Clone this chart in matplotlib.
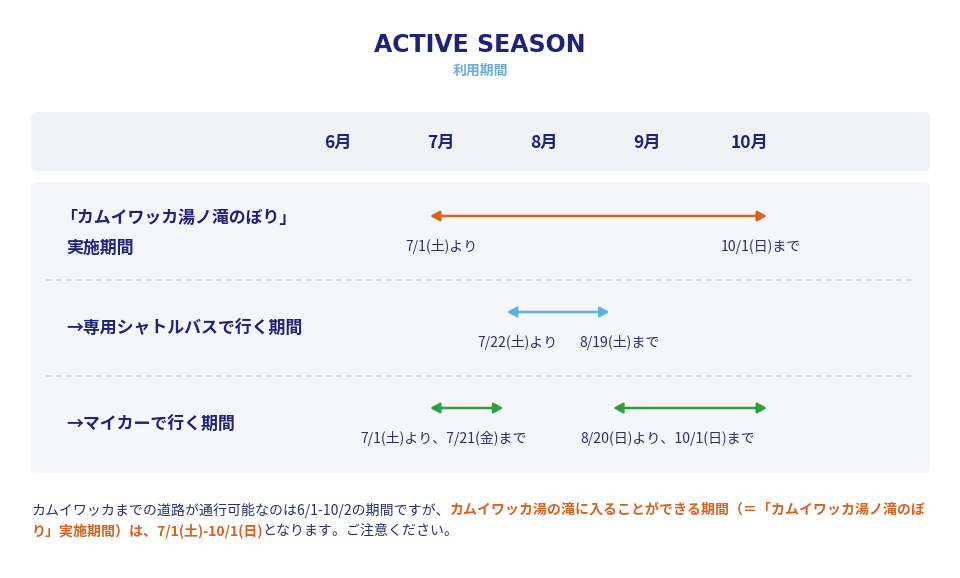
import datetime as dt
import matplotlib
matplotlib.use("Agg")
import matplotlib.pyplot as plt
import matplotlib.dates as mdates
from matplotlib.patches import FancyBboxPatch

JP = ["Noto Sans CJK JP", "DejaVu Sans"]
plt.rcParams["font.family"] = JP

NAVY = "#1f2278"
TEXT = "#2c2f6e"
ORANGE = "#d8621f"

YEAR = 2023
months = ["6月", "7月", "8月", "9月", "10月"]
row_titles = [["「カムイワッカ湯ノ滝のぼり」", "実施期間"],
              ["→専用シャトルバスで行く期間"],
              ["→マイカーで行く期間"]]
# (row, start, end, colour)
periods = [
    (0, (7, 1), (10, 1), "#d8621f"),
    (1, (7, 22), (8, 19), "#5fb0de"),
    (2, (7, 1), (7, 21), "#2f9e3c"),
    (2, (8, 20), (10, 1), "#2f9e3c"),
]
date_labels = [
    (0, "7/1(土)より"), (0, "10/1(日)まで"),
    (1, "7/22(土)より"), (1, "8/19(土)まで"),
    (2, "7/1(土)より、7/21(金)まで"), (2, "8/20(日)より、10/1(日)まで"),
]
footer = [
    [("カムイワッカまでの道路が通行可能なのは6/1-10/2の期間ですが、", False),
     ("カムイワッカ湯の滝に入ることができる期間（＝「カムイワッカ湯ノ滝のぼ", True)],
    [("り」実施期間）は、7/1(土)-10/1(日)", True),
     ("となります。ご注意ください。", False)],
]

fig = plt.figure(figsize=(9.6, 5.78), dpi=100)
fig.patch.set_facecolor("white")

# layout axes in pixel units
lay = fig.add_axes([0, 0, 1, 1])
lay.set_xlim(0, 960)
lay.set_ylim(578, 0)
lay.axis("off")

lay.add_patch(FancyBboxPatch((31, 112), 899, 59, boxstyle="round,pad=0,rounding_size=6",
                             fc="#eff2f7", ec="none"))
lay.add_patch(FancyBboxPatch((31, 182), 899, 291, boxstyle="round,pad=0,rounding_size=6",
                             fc="#f5f6f9", ec="none"))
for y in (280, 376):
    lay.plot([46, 914], [y, y], color="#d3d6dc", lw=1.2, ls=(0, (3.5, 2.5)))

lay.text(480, 45, "ACTIVE SEASON", ha="center", va="center", fontsize=17,
         fontweight="bold", family=["DejaVu Sans"], color=NAVY)
lay.text(480, 71, "利用期間", ha="center", va="center", fontsize=10,
         fontweight="bold", color="#6aaedc")

for i, m in enumerate(months):
    lay.text(338 + i * 103, 143, m, ha="center", va="center", fontsize=12.5,
             fontweight="bold", color=NAVY)

row_y = [216, 312, 408]
title_y = [[218, 248], [329], [425]]
for lines, ys in zip(row_titles, title_y):
    for s, y in zip(lines, ys):
        lay.text(60 if s.startswith("「") else 66, y, s, ha="left", va="center",
                 fontsize=12.2, fontweight="bold", color=NAVY)

label_x = [441, 761, 518, 620, 444, 668]
for (r, s), x in zip(date_labels, label_x):
    lay.text(x, row_y[r] + 31, s, ha="center", va="center", fontsize=10.1, color=TEXT)

# timeline axes: x in dates, spanning 7/1 (px 430) to 10/1 (px 767)
x0, x1 = 430 / 960, 767 / 960
tl = fig.add_axes([x0, 0, x1 - x0, 1])
tl.set_xlim(mdates.date2num(dt.date(YEAR, 7, 1)), mdates.date2num(dt.date(YEAR, 10, 1)))
tl.set_ylim(578, 0)
tl.axis("off")
tl.patch.set_alpha(0)
for r, (sm, sd), (em, ed), c in periods:
    a = mdates.date2num(dt.date(YEAR, sm, sd))
    b = mdates.date2num(dt.date(YEAR, em, ed))
    tl.annotate("", xy=(b, row_y[r]), xytext=(a, row_y[r]), annotation_clip=False,
                arrowprops=dict(arrowstyle="<|-|>,head_length=0.55,head_width=0.3",
                                color=c, lw=1.8, shrinkA=0, shrinkB=0))

# footer with mixed colours
for li, parts in enumerate(footer):
    prev = None
    for s, bold in parts:
        kw = dict(fontsize=10.05, color=ORANGE if bold else TEXT,
                  fontweight="bold" if bold else "normal", va="center", ha="left")
        if prev is None:
            prev = lay.text(31, 510 + li * 21, s, **kw)
        else:
            prev = lay.annotate(s, xy=(1, 0.5), xycoords=prev, **kw)

fig.savefig("out.png", dpi=100, facecolor="white")
